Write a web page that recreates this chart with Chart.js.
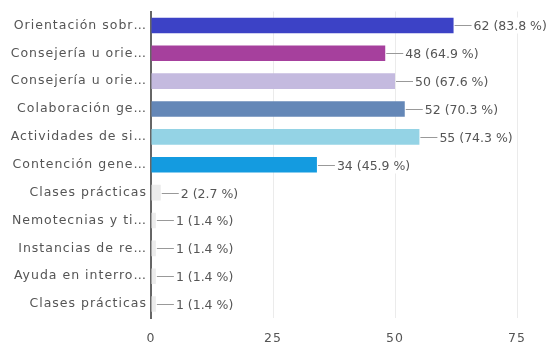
<!DOCTYPE html>
<html>
<head>
<meta charset="utf-8">
<script src="https://cdn.jsdelivr.net/npm/chart.js@4/dist/chart.umd.min.js"></script>
<style>
  html, body { margin: 0; padding: 0; background: #fff; }
  #wrap { width: 556px; height: 345px; }
</style>
</head>
<body>
<div id="wrap"><canvas id="grafico"></canvas></div>
<script>
// respuestas por opción
const opciones = [
  "Orientación sobr…",
  "Consejería u orie…",
  "Consejería u orie…",
  "Colaboración ge…",
  "Actividades de si…",
  "Contención gene…",
  "Clases prácticas",
  "Nemotecnias y ti…",
  "Instancias de re…",
  "Ayuda en interro…",
  "Clases prácticas"
];
const respuestas = [62, 48, 50, 52, 55, 34, 2, 1, 1, 1, 1];
const porcentajes = [83.8, 64.9, 67.6, 70.3, 74.3, 45.9, 2.7, 1.4, 1.4, 1.4, 1.4];
const marcasX = [0, 25, 50, 75];

const colores = [
  "#3c42c6", "#a6409d", "#c4badf", "#6487b7", "#94d3e5", "#149be0",
  "#ececec", "#ececec", "#ececec", "#ececec", "#ececec"
];

const fuente = "'DejaVu Sans', Verdana, sans-serif";
const tamano = 12.5;

// texto de los ejes un poco más espaciado
const espaciado = {
  id: "espaciado",
  beforeDraw(chart) { chart.ctx.letterSpacing = "1px"; },
  afterDraw(chart) { chart.ctx.letterSpacing = "0px"; }
};

// línea guía + texto "n (x %)" al final de cada barra
const etiquetas = {
  id: "etiquetas",
  afterDatasetsDraw(chart) {
    const ctx = chart.ctx;
    const meta = chart.getDatasetMeta(0);
    ctx.save();
    ctx.letterSpacing = "0px";
    ctx.font = tamano + "px " + fuente;
    ctx.textBaseline = "middle";
    meta.data.forEach((bar, i) => {
      const x0 = bar.x + 1;
      const y = Math.round(bar.y) + 0.5;
      const texto = respuestas[i] + " (" + porcentajes[i].toFixed(1) + " %)";
      const ancho = ctx.measureText(texto).width;
      ctx.fillStyle = "#fff";
      ctx.fillRect(x0 + 17, y - 8, ancho + 4, 16);
      ctx.strokeStyle = "#999";
      ctx.lineWidth = 1;
      ctx.beginPath();
      ctx.moveTo(x0, y);
      ctx.lineTo(x0 + 17, y);
      ctx.stroke();
      ctx.fillStyle = "#555";
      ctx.fillText(texto, x0 + 19, y + 1);
    });
    ctx.restore();
  }
};

new Chart(document.getElementById("grafico"), {
  type: "bar",
  data: {
    labels: opciones,
    datasets: [{
      data: respuestas,
      backgroundColor: colores,
      borderWidth: 0,
      barPercentage: 0.56,
      categoryPercentage: 1
    }]
  },
  options: {
    indexAxis: "y",
    responsive: true,
    maintainAspectRatio: false,
    animation: false,
    layout: { padding: { top: 10, right: 39, bottom: 0, left: 0 } },
    plugins: { legend: { display: false }, tooltip: { enabled: false } },
    scales: {
      x: {
        min: 0,
        max: 75,
        afterBuildTicks: s => { s.ticks = marcasX.map(v => ({ value: v })); },
        afterFit: s => { s.height = 27; },
        grid: { color: "#ebebeb", drawTicks: false },
        border: { display: false },
        ticks: { color: "#555", padding: 13, font: { family: fuente, size: tamano } }
      },
      y: {
        afterFit: s => { s.width = 151; },
        grid: { display: false, drawTicks: false },
        border: { color: "#666", width: 2 },
        ticks: { color: "#555", padding: 4, font: { family: fuente, size: tamano } }
      }
    }
  },
  plugins: [espaciado, etiquetas]
});
</script>
</body>
</html>
